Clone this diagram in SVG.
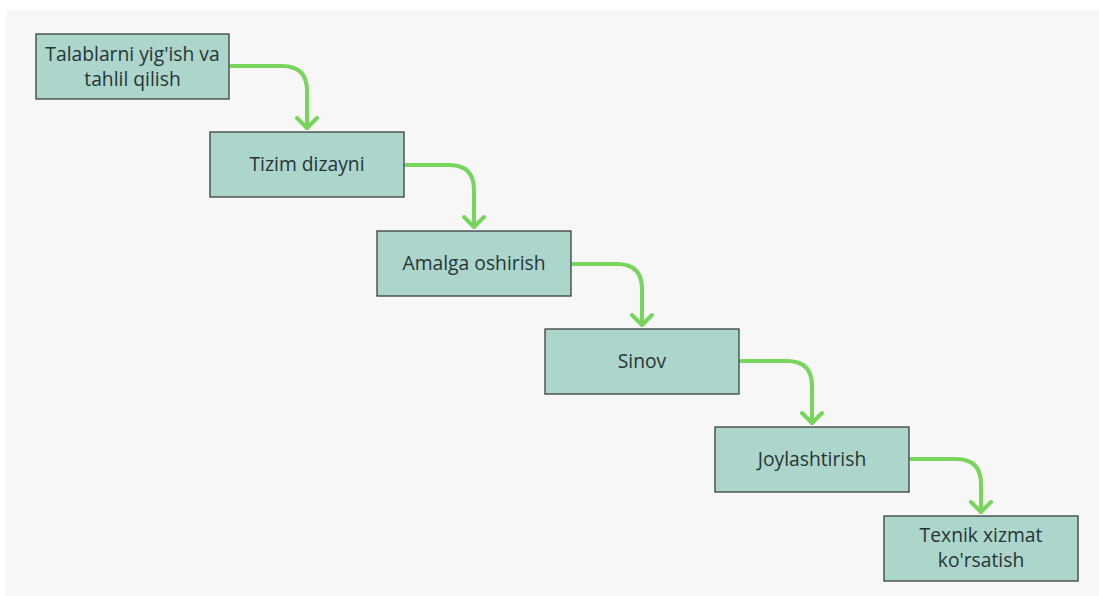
<svg xmlns="http://www.w3.org/2000/svg" width="1099" height="596" viewBox="0 0 1099 596">
<defs>
<style>
.box{fill:#acd5cb;stroke:#3a3f3e;stroke-width:1.3}
.t{font-family:"Open Sans","Liberation Sans",sans-serif;font-size:19.3px;fill:#263636;text-anchor:middle}
.c{fill:none;stroke:#76d55a;stroke-width:4;stroke-linecap:round;stroke-linejoin:round}
</style>
</defs>
<rect x="0" y="0" width="1099" height="596" fill="#ffffff"/>
<rect x="6" y="10" width="1093" height="586" fill="#f7f7f7"/>
<g id="connectors">
<path class="c" d="M231,66 H282 Q307,66 307,91 V128"/>
<path class="c" d="M297,118 L307,128 L317,118"/>
<path class="c" d="M406,165 H449 Q474,165 474,190 V227"/>
<path class="c" d="M464,217 L474,227 L484,217"/>
<path class="c" d="M573,264 H617 Q642,264 642,289 V325"/>
<path class="c" d="M632,315 L642,325 L652,315"/>
<path class="c" d="M741,361 H787 Q812,361 812,386 V423"/>
<path class="c" d="M802,413 L812,423 L822,413"/>
<path class="c" d="M911,459 H956 Q981,459 981,484 V512"/>
<path class="c" d="M971,502 L981,512 L991,502"/>
</g>
<g id="n1"><rect class="box" x="36" y="34" width="193" height="65"/><text class="t" x="132.5" y="61">Talablarni yig'ish va</text><text class="t" x="132.5" y="86">tahlil qilish</text></g>
<g id="n2"><rect class="box" x="210" y="132" width="194" height="65"/><text class="t" x="307" y="171">Tizim dizayni</text></g>
<g id="n3"><rect class="box" x="377" y="231" width="194" height="65"/><text class="t" x="474" y="270">Amalga oshirish</text></g>
<g id="n4"><rect class="box" x="545" y="329" width="194" height="65"/><text class="t" x="642" y="368">Sinov</text></g>
<g id="n5"><rect class="box" x="715" y="427" width="194" height="65"/><text class="t" x="812" y="466">Joylashtirish</text></g>
<g id="n6"><rect class="box" x="884" y="516" width="194" height="65"/><text class="t" x="981" y="542">Texnik xizmat</text><text class="t" x="981" y="567">ko'rsatish</text></g>
</svg>
